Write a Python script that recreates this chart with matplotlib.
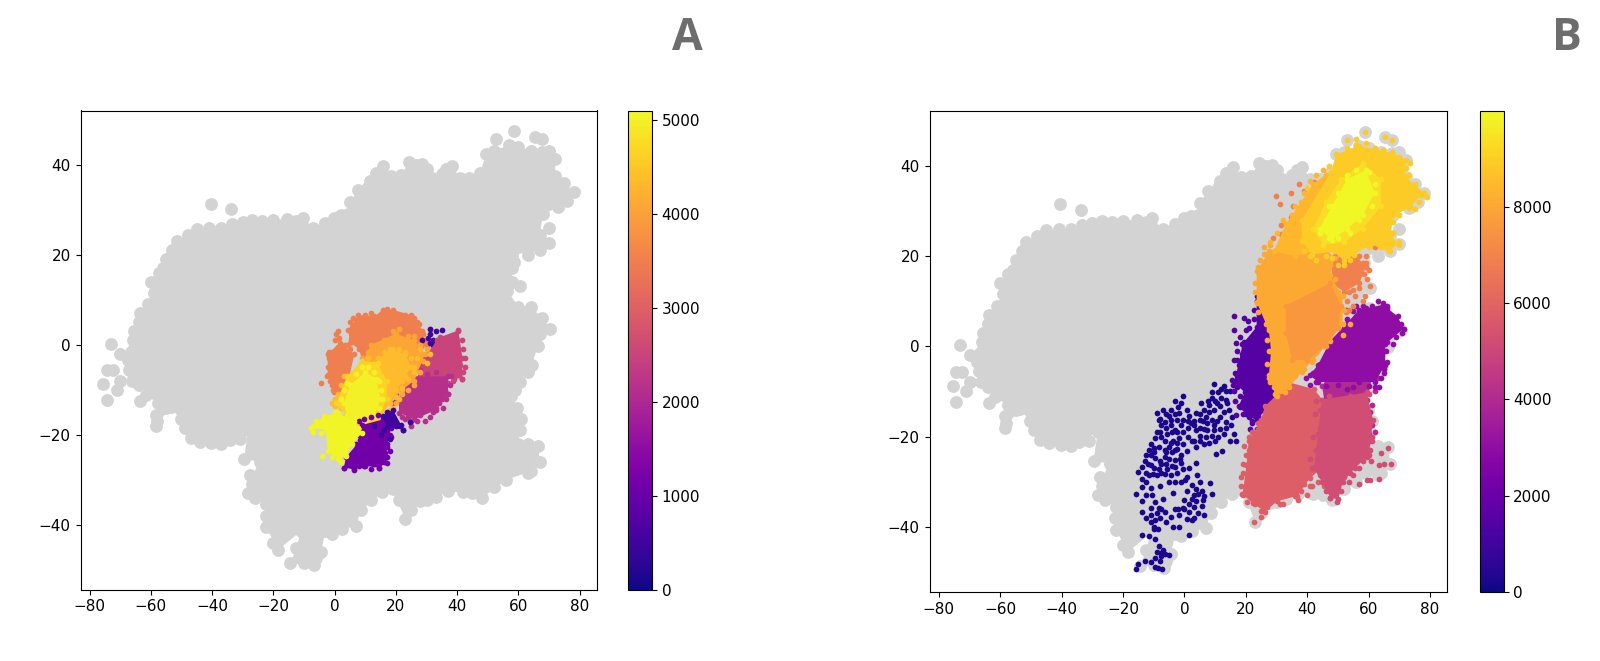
import matplotlib
matplotlib.use("Agg")
import matplotlib.pyplot as plt
from matplotlib.cm import ScalarMappable
from matplotlib.colors import Normalize

GRAY = "#d3d3d3"
XLIM = (-83, 85.5)
YLIM = (-54.4, 52.1)
x_ticks = [-80, -60, -40, -20, 0, 20, 40, 60, 80]
y_ticks = [-40, -20, 0, 20, 40]
cbar_ticks_a = [0, 1000, 2000, 3000, 4000, 5000]
cbar_ticks_b = [0, 2000, 4000, 6000, 8000]
vmax_a = 5100
vmax_b = 9990

gray_outline = [(-64.5,3),(-63.5,7),(-59,11.5),(-57.5,14.5),(-57.5,16),(-55,19),(-51.5,23),(-45,25.7),(-37,26),(-30,27.2),
 (-23.6,27.6),(-15.6,28),(-10.5,28.3),(-7,26),(-0.3,28.3),(4.4,29),(5,31.8),(7.7,34.4),(11,35),(13.5,38.3),(15.7,39.8),
 (18.4,37.5),(21.7,37.8),(24.4,40.6),(28.4,40.2),(31.7,37),(38.4,39.8),(41,37),(47.5,38.3),(49.5,42.5),(57,44.4),(67.7,42.8),
 (72,41.3),(72,37.5),(78,34),(73,30.6),(68,29),(67,24.5),(70,22.7),(67,21),(58,20),(58,17),(58,14),(60.4,13),(56.4,12),
 (60,8.5),(64,8.5),(67.7,6),(70.4,3.6),(66.4,-0.2),(64.4,-4.4),(60.4,-8.2),(57.7,-11.3),(59.7,-14),(61,-16.6),(60,-22),
 (66.4,-22.4),(67,-26),(63,-28.4),(56,-30),(48,-34.1),(45,-33),(37,-32.6),(33,-33.8),(28,-34.8),(23,-38.8),(19,-32),
 (15.6,-32.8),(8.5,-36.8),(7,-40.3),(2.4,-41),(-3,-41.5),(-4.5,-46),(-6.8,-49),(-14.5,-48.6),(-12.5,-45.2),(-11,-41.4),
 (-18.5,-45.6),(-22.3,-40.6),(-22.3,-35.5),(-28.3,-33),(-27.6,-29),(-24,-28),(-24.3,-26),(-29.6,-25.4),(-28.3,-19),
 (-34.3,-21.2),(-40.3,-21.8),(-47,-20.8),(-50.3,-16.6),(-53.6,-13.8),(-58.3,-18.1),(-57.6,-13),(-61.6,-11.2),(-66.3,-8),
 (-67.6,-3.4),(-65.6,-0.6),(-65.6,3)]
gray_loose = [(-73,0.2),(-70,-2),(-74.5,-5.6),(-72.5,-5.6),(-75.5,-8.8),(-74.5,-12.3),(-71,-10),(-70,-8),(-40.4,31.4),
 (-33.8,30.2),(52.8,45.7),(58.7,47.5),(65.3,46.3),(67.7,45.7),(-58,-17),(-63.5,-12.5),
 (-61,9),(-64,5),(-66,1),(-60,14),(-56,17),(-53,21),(-48,24.5),(-41,26),(-33.5,26.8),(-27,27.7),(-20,27.8),(-12.5,27.5),
 (-3,27),(2,28.8),(3.5,26),(9,31),(13,30),(11.5,36.5),(20,37),(26.5,40),(30,39),(35,38),(36.5,39),(44,37),(52,43),(54,42.5),
 (60,44),(64,43),(70,43),(75,36),(76,32),(70,26),(63,20),(58.5,18.5),(64,6),(67,2.5),(63,-6),(59,-10),(60.5,-19),(63,-22),
 (64,-28),(52,-31.5),(42,-32.7),(30,-34.5),(25,-36.8),(21,-34.5),(12,-34.5),(5,-39),(-1,-42),(-6,-43.5),(-9,-44),(-6,-47.5),
 (-10,-48.5),(-20,-44),(-22.5,-38),(-26,-34),(-27,-31),(-31,-21),(-37,-22),(-44,-21.5),(-49,-18.5),(-55,-14),(-58.5,-15.5),
 (-64,-9),(-67,-5.5),(-66.5,-1.5)]

# ---- panel A clusters: (value, outline, loose points)
a_orange_wing = [(-2.3,-2.1),(1.7,0.5),(6.4,-2.1),(3.7,-10.5),(-0.3,-10.5),(-2.3,-6.7)]
a_orange_wing_pts = [(-2,-3),(-1,-1.5),(1.5,1.5),(1.2,-0.5),(3,-2),(-2.2,-5),(-1.5,-8),(-0.5,-10),(2,-12),(-4.5,-8.4),(3.5,-10),
 (-2,-1.5),(0,1),(0.5,2.5),(1,3),(2,0),(3.5,0),(5,-1),(4.5,-3),(-2.5,-7),(-1,-9),(1,-11),(2.5,-12.5)]
a_orange_top = [(4.4,3.2),(7.7,6.6),(13,6.3),(15.7,7.8),(19,7.8),(25,6.6),(27.7,4.7),(29.7,0.2),(27,-4),(10,-6),(8,-1),(5,0.5)]
a_orange_top_pts = [(5,5),(6,3),(7,5),(8.5,6),(11,6),(13,5.5),(10,4.5),(14.5,3),(15,6),(17,8),(18.5,7),(20,5),(22,5.5),(24,6),
 (26,6),(27,5),(28.5,3),(29.5,1),(31,3.5),(30,-0.5),(15.5,4.5),(12,3.8),(5.2,1.2),
 (5.5,4),(6,6),(9,5),(10,6.7),(12,7),(14,5),(16,7),(19.5,6),(23,6.7),(25.5,5),(28,3),(29,2.5),(30,0.5),(4.5,0),(7,1)]
a_orange = [(8,-5),(12,0),(20,2.5),(26,1),(29.5,-2),(26,-8),(22,-10),(18,-13),(12,-12),(9,-9)]
a_orange_pts = [(9,-3),(11,-1.5),(13,-0.5),(16,1),(19,3),(21,3.5),(24,2),(26,2),(28,0),(30,-1),(29,-3.5),(28,-6),(26,-9),(24,-10),(22,-11),(20,-13)]
a_gold = [(5,-8),(13,-4),(18,-1),(23,-2),(25,-5),(22,-8),(18,-13),(14,-17),(10,-18),(4,-14),(1,-13)]
a_gold_pts = [(-1,-13),(0,-13.5),(2,-14),(3,-16),(5,-17),(20,-10),(23,-7),(27,-3),(28,-1),(31,-2),(30,-4),(26,-6),(21,-12),(19,-14),
 (3,-7),(2,-9),(1,-11),(0,-12),(7,-6),(9,-4),(11,-3),(14,-3),(16,-1.5),(19,-1),(21,-1),(23,-1.5),(25,-3),(26,-5),(24,-7.5),
 (22,-9.5),(20,-11.5),(18,-14.5),(16,-16),(13,-17.5),(11,-18.5),(8,-19.5),(6,-18.5)]
a_amber = [(0.5,-13),(4,-7),(9,-3.5),(14,-4),(17,-8),(17,-12),(14,-17),(9,-19),(4,-16)]
a_yellow = [(3,-13),(5,-9),(10,-6),(13.5,-7.5),(15,-12),(13,-15.5),(10,-17),(6,-17),(4,-15.5)]
a_yellow_pts = [(2,-12),(3,-10),(4,-8.5),(7,-6.5),(9,-5),(11,-5),(13,-6),(14.5,-8),(15,-10),(15.5,-12),(14.5,-14),(12,-16),(10,-17),(7,-17),(5,-16)]
a_yellow_low = [(-7.6,-18.5),(-3.6,-15.9),(1.1,-15.1),(6.4,-17),(8.8,-19.7),(5.7,-22),(3.7,-24.7),(1.1,-25.4),(-2.3,-23.5),(-2.9,-19)]
a_yellow_low_pts = [(-7,-18),(-6,-17),(-4.5,-19.5),(-4,-24.8),(-1,-25),(2,-26),(3.5,-24.5),(0,-15),(7.5,-18.5),(-7,-19.3)]
a_magenta = [(29,-3),(34.4,1.7),(40.4,3.2),(41.7,-2.9),(41.7,-7.5),(35,-7.5),(28,-7)]
a_magenta_pts = [(40.2,3),(39.5,1.5),(42.5,-2.9),(42,-6),(41.5,-7.7),(38.5,-8),(37,-8.5),(29,-4),(37,-1),(33,0),
 (28,-5),(30,-2),(32,-1),(33.5,1),(35,1),(36.5,0.5),(38,2),(39.5,0),(41.5,1),(42,-1),(41,-4.5),(42.5,-5),(40,-6),(39,-7.5),(34,-7),(31,-6)]
a_plum = [(21,-12),(25,-7),(37,-7),(37,-11),(33,-14.5),(26,-16.6),(21,-15.1)]
a_plum_pts = [(36,-10),(35,-12),(36.5,-12),(33,-14),(31,-16),(29.5,-17),(25,-17),(23,-16.5),(20,-12.5),(29,-13),(32,-12),
 (19,-13),(20,-11),(22,-9.5),(24,-7),(26,-6),(28,-5.5),(30,-6.5),(33,-6),(36,-7.5),(38,-7),(37.5,-9),(37,-11),(35.5,-14),(34,-13),
 (32,-15),(28,-15.5),(27,-17),(24,-16),(22,-16),(25,-18)]
a_purple = [(3.7,-25),(8.4,-21.2),(9,-17.8),(15.7,-16.6),(18.4,-18.5),(17,-22.7),(17,-26.2),(14.4,-27.3),(9.7,-26.9),(6.4,-27.7),(3,-27.3)]
a_purple_pts = [(3,-27.3),(6.3,-27.8),(7,-26),(10,-27),(11.5,-26),(14.5,-27.3),(16,-26),(16.5,-24),(17,-22),(18.4,-20.5),(5,-25.2),
 (8,-17),(9.5,-16.5),(12,-16),(14,-15.5),(15,-18),(17.5,-17.5),(18,-20),(18,-23.5),(17,-25),(13,-26.5),(12,-27.5),(8,-27),(4.5,-26),(6,-24),(7,-22),(8,-20),(9.5,-19)]
a_indigo = [(15.7,-15.9),(19,-14.4),(21.7,-17.8),(22.4,-18.9),(17,-18.2)]
a_indigo_top_pts = [(31,3.6),(33,3),(35,3.2),(34.7,1.3),(32,1),(32,0),(31,0.5),(30.5,1.5),(28.5,1),(31,2.5)]
a_indigo_pts = [(22.4,-19),(24.5,-17.2),(13,-18),(15,-20),(18,-21),(20,-18),(16,-19),(17,-15),(19,-16)]

clusters_a = [
    (3500, a_orange_wing, a_orange_wing_pts),
    (3500, a_orange_top, a_orange_top_pts),
    (500, [], a_indigo_top_pts),
    (2500, a_magenta, a_magenta_pts),
    (2150, a_plum, a_plum_pts),
    (4050, a_orange, a_orange_pts),
    (4350, a_gold, a_gold_pts),
    (4650, a_amber, []),
    (5000, a_yellow, a_yellow_pts),
    (1100, a_purple, a_purple_pts),
    (500, a_indigo, a_indigo_pts),
    (5050, a_yellow_low, a_yellow_low_pts),
]

# ---- panel B clusters
b_navy_pts = [(-9,-14.8),(-7,-14),(-3.1,-12.1),(-0.4,-11),(-4.4,-14),(-1.7,-14.8),(0.9,-14),(3.6,-14.8),(6.3,-14),(9.6,-8.3),
 (8.9,-10.2),(7.6,-12.1),(10.9,-10.2),(12.9,-8.7),(14.9,-9.8),(13.6,-11.8),(11.6,-13.3),(9.6,-14),(6.9,-15.6),(4.9,-16.3),
 (8.9,-16.3),(11.6,-15.6),(15.6,-15.6),(13.6,-16.7),(11.6,-18.2),(9.6,-18.6),(6.3,-18.2),(3.6,-18.6),(4.9,-19.8),(8.9,-19.8),
 (12.9,-19.4),(16.2,-19.4),(16.9,-20.9),(14.9,-20.9),(6.3,-21.7),(3.6,-22.4),(12.2,-23.2),(10.2,-23.8),(-0.4,-16.3),(-2.4,-16.3),
 (-4.4,-16.3),(-6.4,-16.7),(-8.4,-16.3),(-3.1,-18.6),(-5.7,-19.4),(-9.7,-20.2),(-3.7,-20.9),(-1.7,-20.2),(2.3,-20.9),(-0.4,-21.7),
 (-11,-21.7),(-8.4,-22.4),(-5,-22.4),(-2.4,-22.8),(-12.4,-24),(-9.7,-24.7),(-6.4,-24.4),(-3.1,-25.1),(0.9,-23.2),(-13.7,-26.7),
 (-11,-26.3),(-8.4,-27.1),(-5.7,-27.1),(-3.1,-26.7),(-1.1,-25.9),(3.6,-25.9),(-15,-27.8),(-10.4,-28.2),(-6.4,-28.2),(-4.4,-28.5),
 (-0.4,-27.1),(0.9,-29),(-13.7,-29.3),(-5,-30.1),(0.3,-29.7),(2.3,-30.8),(4.9,-30.1),(8.2,-30.2),(-15.7,-32.8),(-13.7,-31.1),
 (-11,-31.4),(-3.7,-32.4),(0.9,-32),(3.6,-31.6),(5.6,-32),(8.9,-32.8),(6.3,-33.1),(-13.7,-34.3),(-7,-33.9),(3.6,-34.3),
 (2.3,-33.9),(-11,-35.8),(-8.4,-35.8),(-6.4,-36.6),(-0.4,-35.8),(1.6,-36.6),(5.6,-35.4),(-13.7,-36.6),(-11,-37.4),(-9.7,-38.5),
 (-4.4,-37.8),(-1.7,-37.4),(0.9,-38.2),(2.3,-38.5),(6.3,-37.4),(-13.7,-41.8),(-11.7,-41.9),(-9.7,-42.7),(-3.7,-39.9),(-1.7,-40.1),
 (1.6,-41.7),(-8.4,-44.2),(-7.7,-45.8),(-5,-46.3),(-9.7,-46.9),(-7.7,-46.5),(-11,-47.7),(-15,-48.1),(-15.7,-49.4),(-9.7,-48.8),
 (-7.3,-49.4),(-10,-40),(-8.5,-40.5),(-6,-39),(-10.5,-33),(-9,-37),(3,-35.5),(0,-36),(4.5,-32.8),(-12.5,-28),(-13,-25.5),
 (-7.5,-26),(-5,-25),(-9,-19),(-7.5,-20),(-11,-24),(7.5,-17),(10,-12),(12,-11.5),(14.5,-14),(-1,-24),(1,-18),(2,-17),(5.5,-12.5),
 (-8,-31),(-6,-23.5),(-4,-19),
 (-8,-16),(-6,-15),(-5,-15.5),(-3,-15),(-2,-13.5),(-1,-12.5),(1.5,-15.5),(3,-16.5),(5,-15),(6,-16.5),(8,-14.5),(8,-13),(9,-11.5),
 (10.5,-12.5),(12,-9.5),(13.5,-10),(14,-12.5),(13,-14.5),(10.5,-16.5),(9.5,-17.5),(7.5,-18.5),(5,-18),(3,-17.5),(1,-16.5),(-1,-17.5),
 (-2.5,-19),(-4.5,-17.5),(-6,-18),(-7.5,-17.5),(-8,-19),(-6.5,-21),(-4.5,-21.5),(-2.5,-21.5),(-0.5,-19),(1,-20),(3,-21),(5,-21),
 (7,-20),(8,-21.5),(10,-21),(11,-20),(13.5,-18),(15,-17.5),(-10,-22.5),(-11.5,-23),(-10,-23.5),(-8,-25.5),(-6.5,-23),(-4,-23.5),
 (-3,-23),(-1.5,-25),(-12,-26),(-10,-27),(-9,-28.5),(-7.5,-28),(-6,-26),(-4,-26.5),(-2.5,-28),(-11.5,-28.5),(-12.5,-30),(-3,-30),
 (-1,-30),(1.5,-27),(4,-28.5),(-10,-40.5),(-12.5,-38),(-11,-39),(-8,-38),(-7.5,-36),(-9.5,-34.5),(-12.5,-33),(-3,-36),(-2,-36),
 (0,-34),(1.5,-35),(3,-38),(4.5,-37),(6,-34),(3,-33),(-7,-45),(-9,-45.5),(-8,-47.5),(-6.5,-46),(-13,-47.5),(-8.5,-49)]
b_dark = [(23.5,11.1),(28.2,5),(29.5,-1),(30.2,-10.2),(27.5,-13.3),(23.5,-16.3),(20.9,-15.6),(17.6,-13.3),(19.6,-10.2),(16.2,-8),(17.6,-4.1),(18.9,0.5),(23.5,4.3)]
b_dark_pts = [(16,6.7),(16,3.5),(19.5,6.2),(20.6,5.6),(16.9,0.8),(18.9,-1.8),(16.2,-3),(23.5,-18.2),(21.5,-18.2),(16.9,-15.2),(19,-15),(16.5,-6),(17,-9),(15.8,-8.5),
 (17,-1),(18,2),(19.5,1),(20,3.5),(21,4),(22.5,6),(22.5,8),(23.5,10),(24,12),(18,-5),(17,-6.5),(15.5,-7.5),(16,-10),(18,-11),(16.5,-12),(18,-13.5),(20,-15),(22,-16.5),
 (18.5,-8),(19,-3),(20,-12),(17,-3),(22,-17),(24,-15.5),(28,-13),(30,-11)]
b_orange = [(27.5,21),(43.5,23.4),(48.9,19.5),(47.5,15.7),(51.5,11.1),(51.5,5),(47.5,1.2),(41.5,-3.4),(38.2,-5.6),(32.9,-10.2),(29.5,-10.6),(27.5,-6.4),(28.2,-1),(27.5,3.5),(23.5,9.8),(23.5,16.6)]
b_orange_pts = [(23.5,9.5),(24,7.5),(26.5,5),(27.5,4),(27,1.5),(27.5,-1),(27,-4),(27.5,-7),(28,-8),(30,-11),(31,-10),(36,-6.5),(39,-5),(42,-3),(54,5),(51.5,2.5),(49,3.8),(23,14),(26,22),(28,22.5),(46,14.5),
 (24,17.5),(24.5,19),(26,20.5),(23,12),(34,-9),(29,-9),(30,-7),(43,-1.5),(45,0),(47,2),(50,6),(52,8),(50,12),(49,15),(47.5,18)]
b_amber = [(29,21),(33,27),(38,32),(42,36),(46,38),(50,30),(46,22),(36,20)]
b_amber_pts = [(28,23),(30,25),(32,28),(34,26),(36,31),(39,34),(41,36.5),(43,38),(45,39),(35,29),(37,29.5),(40,31)]
b_orange_dk = [(33,9),(47.5,14),(51,9),(50,4),(46,0),(40,-3),(35,-3),(33,3)]
b_red = [(48,19),(55,21),(59,17.5),(57,14),(52,12),(48,14)]
b_red_pts = [(60.5,13.3),(58.8,11.1),(55.5,11.1),(53.5,8.1),(52.5,7.5),(55,9),(58,10),(29.8,33.3),(31.1,31.4),(34.8,34),(37.2,36),(35.5,31),
 (38.8,34.4),(42.2,36.3),(34.8,28.7),(31.5,26.8),(31.3,24.9),(28.9,24),(29.5,21),(41,32),(58,18.5),(60,17),(59,20),(62,22),
 (49,20),(51,19.5),(53,20),(55,21.5),(57,20),(59,18.5),(58.5,16),(59.5,15),(57,13),(55,12.5),(53.5,12),(53,10),(57,17),(47,12.5),(48,10)]
b_gold = [(38.2,27.9),(47.8,38.7),(49.5,42.5),(57,44.4),(67.7,42.8),(72,41.3),(72,37.5),(78,34),(73,30.6),(68,29),(67,24.5),(69.5,22.7),(66.5,21),(60.7,22.6),(55.3,20.3),(52,18.8),(48.8,21),(41.5,20.3),(38.2,23.4)]
b_gold_pts = [(52.8,45.7),(58.7,47.5),(65.3,46.3),(67.7,45.7),(49,39),(52,42),(56,46),(61,43),(70,42),(73.5,40.5),(75,36),(78,34),(79,33),(75,30.5),(70,29),(68,25),(70,23),(40,35),(44,33),
 (41,20),(43,19),(46,20),(48,19.5),(50,18),(52,18),(54,19),(39,21),
 (47,40),(50,41),(53,44),(56,44.5),(59,45),(62,44),(64.5,43.5),(67.5,43),(70,41.5),(72,39.5),(73,38),(75,35.5),(77,33.5),(76.5,32),(73.5,31),(71,31),(69,29.5),(68,27.5),(67,25),(68,23),(70,22.5),(67,21),(64,22),(62,23),(60,22),(57,22),(66,24),(65,28)]
b_lemon = [(42,26),(46,32),(51,37),(58,40.5),(64,37),(64,31),(58,26),(52,23),(45,22.5)]
b_yellow = [(44,26),(48,31),(53,37),(59,39),(62,34),(58,29),(53,26),(48,23.5)]
b_yellow_pts = [(44,25),(46,28),(47,31),(50,34),(53,38),(56,39),(60,38.5),(62,36),(61,31),(57,28),(54,25),(50,24),(47,24)]
b_purple = [(52.8,5),(56.8,8.1),(64.8,9.2),(69.4,6.6),(71.4,3.9),(65.4,0.5),(65.4,-4.1),(62.1,-7.9),(56.8,-7.9),(43.5,-7.9),(40.8,-6.4),(43.5,-4.1),(47.5,1.2)]
b_purple_pts = [(53,6),(55,7.8),(58,9),(60,7.5),(64.5,9.5),(67,7),(70,4),(69,2),(66,1),(64,-2),(65,-5),(64,-7),(62,-9),
 (66,8.5),(62,7),(67.5,5.5),(70.5,5),(71,3),(68,0.5),(65.5,-1),(66,-3.5),(65,-6),(63.5,-9),(52,4),(50,2),(48,0),(46,-2),(44,-4),(42,-6),(39.5,-7),(41,-8.5),(43,-8),(50,6.5),(52.5,8),(56,9),(59,8.5),(61,9),(63,10),(66,9),
 (46,-8.8),(50,-8.5),(55,-9),(60,-8.8),(48,-7),(53,-9.5)]
b_plum = [(44.8,-8.7),(50.1,-4.1),(62.1,-4.1),(59.4,-11.8),(60.1,-19.4),(59.4,-23.2),(48,-23)]
b_plum_pts = [(62,-10),(63,-7),(61,-13),(60.5,-14.5),(61,-17.5),(62,-19),(60,-21)]
b_pink = [(26.2,-13.3),(34.2,-8),(42.2,-9.5),(47.5,-14),(44.8,-27),(40.8,-29.2),(36.8,-33.1),(30.2,-34.3),(26.2,-36.6),(22.2,-34.7),(18.9,-32.8),(20.2,-26.3),(20.9,-21),(24.9,-16.3)]
b_pink_pts = [(22.6,-38.9),(24.9,-37.9),(19,-28),(18.5,-31),(21,-23),(22,-31.5),(27,-35.5),(31,-35),(33,-33),(36,-33.2),(39,-30.5),(41,-31),
 (19,-26),(20,-24),(19.5,-22),(21,-20),(22,-19),(24,-17),(18.5,-29),(19,-33),(20.5,-34.5),(23,-35),(25,-36.5),(26,-35.5),(28.5,-34),(30.5,-33),(32,-35),(34,-32),(37,-34),(38,-32),(40,-33),(41.5,-31),(43.5,-30),(44,-28.5),(45.5,-31)]
b_rose = [(44.8,-11.8),(59.4,-10.2),(61.4,-16.3),(60.1,-24),(55.5,-27),(51.5,-30.1),(50.1,-33.9),(47.5,-33.5),(44.8,-30.1),(42.2,-27),(43.5,-19.4)]
b_rose_pts = [(66.4,-22.6),(64.1,-23.6),(67.2,-26.1),(63.4,-26.3),(65,-26),(60.8,-25.5),(63.4,-29.3),(59.4,-29.7),(60.5,-29.5),(56.8,-30.5),(53.5,-30.1),(49.7,-34.4),(47.5,-33.5),(60.5,-17),(61,-20),
 (46,-32),(48,-32),(49,-31),(51,-32),(52,-29),(54,-28),(55,-28.5),(57,-27),(58,-25.5),(59.5,-24.5),(60.5,-23),(61,-21),
 (43,-12),(42.5,-15),(44,-18),(42,-20),(43,-23),(41,-25),(41.5,-27),(44,-14),(47,-11),(50,-12.5),(54,-11),(57,-11.5),(60,-10.5)]

clusters_b = [
    (230, [], b_navy_pts),
    (1500, b_dark, b_dark_pts),
    (4000, b_plum, b_plum_pts),
    (3000, b_purple, b_purple_pts),
    (5800, b_pink, b_pink_pts),
    (5200, b_rose, b_rose_pts),
    (6900, b_red, b_red_pts),
    (8050, b_orange, b_orange_pts),
    (7550, b_orange_dk, []),
    (8400, b_amber, b_amber_pts),
    (8900, b_gold, b_gold_pts),
    (9350, b_lemon, []),
    (9950, b_yellow, b_yellow_pts),
]
size_a = 17
size_b = 17

fig = plt.figure(figsize=(16, 6.61), dpi=100)
W, H = 1600.0, 661.0

def box(l, r, t, b):
    return [l / W, 1 - b / H, (r - l) / W, (b - t) / H]

def panel(axbox, cbox, clusters, vmax, cticks, size):
    ax = fig.add_axes(box(*axbox))
    norm = Normalize(0, vmax)
    cmap = plt.get_cmap("plasma")
    ax.fill([p[0] for p in gray_outline], [p[1] for p in gray_outline], color=GRAY, lw=0, zorder=1)
    gp = gray_outline + gray_loose
    ax.scatter([p[0] for p in gp], [p[1] for p in gp], s=85, color=GRAY, lw=0, zorder=1)
    z = 2
    for val, outline, pts in clusters:
        c = cmap(norm(val))
        if outline:
            ax.fill([p[0] for p in outline], [p[1] for p in outline], color=c, lw=0, zorder=z)
        all_pts = outline + pts
        ax.scatter([p[0] for p in all_pts], [p[1] for p in all_pts], s=size, color=c, lw=0, zorder=z)
        z += 1
    ax.set_xlim(*XLIM)
    ax.set_ylim(*YLIM)
    ax.set_xticks(x_ticks)
    ax.set_yticks(y_ticks)
    ax.tick_params(labelsize=11)
    cax = fig.add_axes(box(*cbox))
    cb = fig.colorbar(ScalarMappable(norm=norm, cmap=cmap), cax=cax)
    cb.set_ticks(cticks)
    cb.ax.tick_params(labelsize=11)

panel((80.5, 596.5, 110.5, 589.5), (628, 652, 110.5, 589.5), clusters_a, vmax_a, cbar_ticks_a, size_a)
panel((929.6, 1447, 111, 592), (1480, 1503.5, 111, 592), clusters_b, vmax_b, cbar_ticks_b, size_b)

fig.text(687 / W, 1 - 38 / H, "A", fontsize=32, fontweight="bold", family="Open Sans", color="#6d6d6d", ha="center", va="center")
fig.text(1567 / W, 1 - 38 / H, "B", fontsize=32, fontweight="bold", family="Open Sans", color="#6d6d6d", ha="center", va="center")

fig.savefig("out.png", dpi=100)
